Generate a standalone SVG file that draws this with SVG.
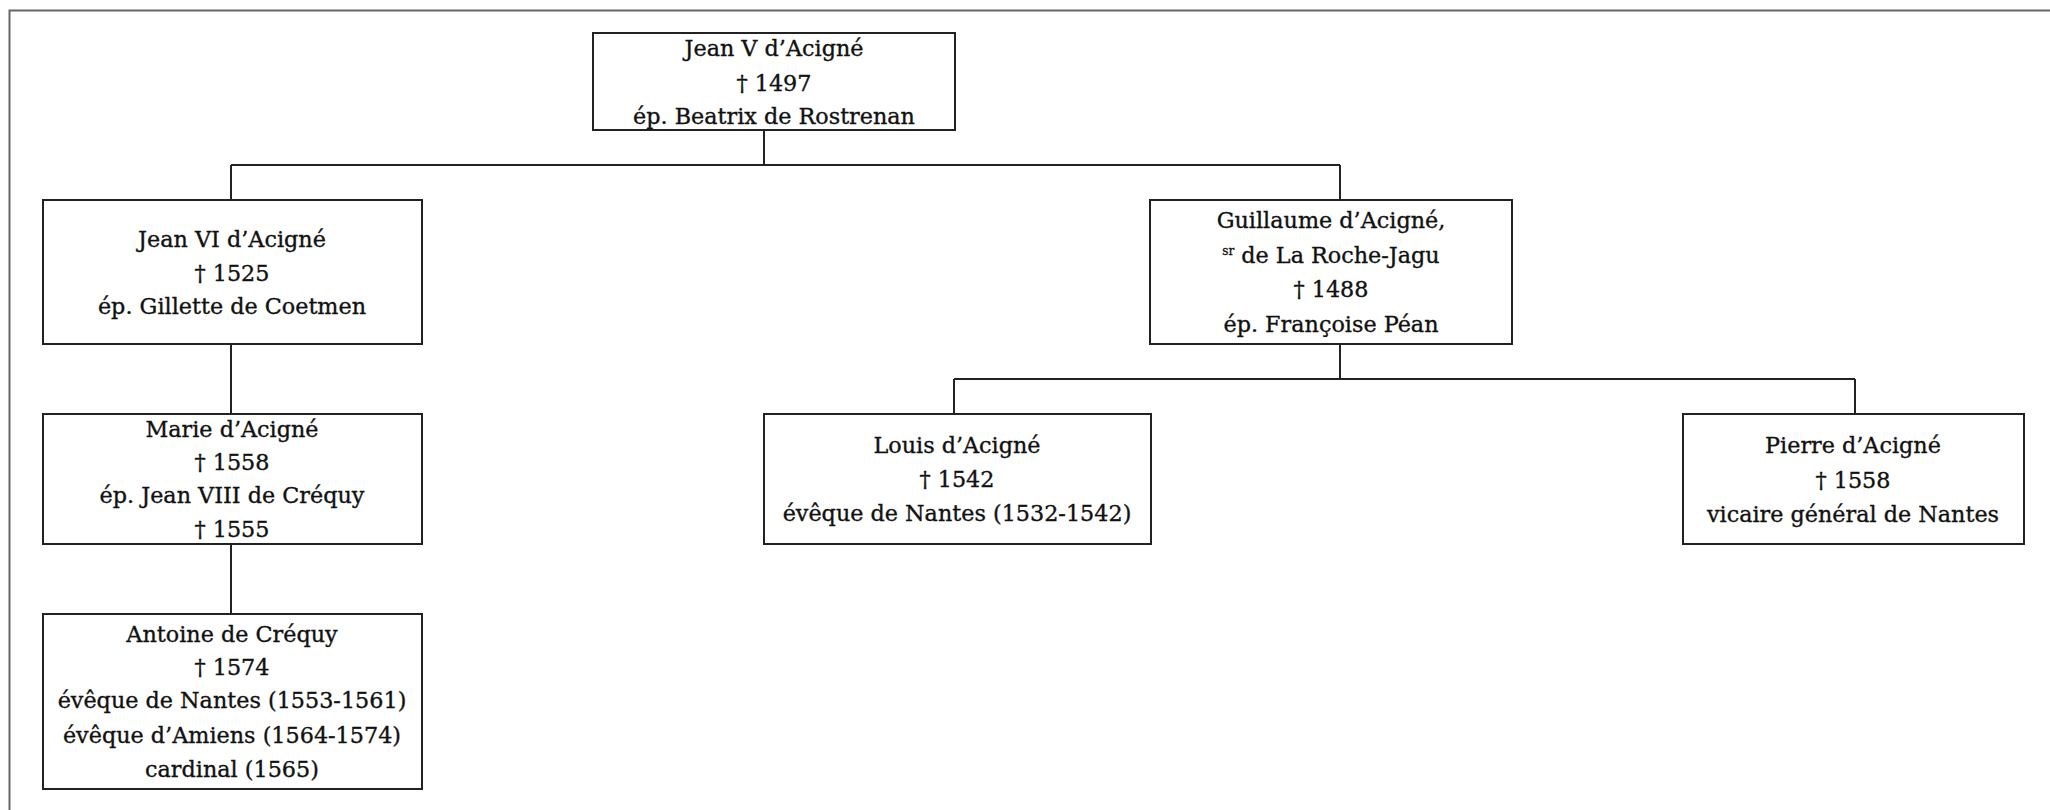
<svg xmlns="http://www.w3.org/2000/svg" width="2050" height="810" viewBox="0 0 2050 810">
<style>
.box{fill:#fff;stroke:#222;stroke-width:2}
.ln{fill:none;stroke:#222;stroke-width:2}
.t{font-family:"DejaVu Serif","Liberation Serif",serif;font-size:22.3px;fill:#111;stroke:#111;stroke-width:0.35;text-anchor:middle}
.sup{font-size:12px}
</style>
<rect x="0" y="0" width="2050" height="810" fill="#fff"/>
<path d="M9.5,830 V10.5 H2060" fill="none" stroke="#666" stroke-width="2"/>
<g id="connectors" class="ln">
<path d="M764,130 V165 M231,165 H1340 M231,165 V200 M1340,165 V200"/>
<path d="M231,344 V414 M231,544 V614"/>
<path d="M1340,344 V379 M954,379 H1855 M954,379 V414 M1855,379 V414"/>
</g>
<g id="jean5">
<rect class="box" x="593" y="33" width="362" height="97"/>
<text class="t" x="774" y="56">Jean V d’Acigné</text>
<text class="t" x="774" y="91">† 1497</text>
<text class="t" x="774" y="124">ép. Beatrix de Rostrenan</text>
</g>
<g id="jean6">
<rect class="box" x="43" y="200" width="379" height="144"/>
<text class="t" x="232" y="247">Jean VI d’Acigné</text>
<text class="t" x="232" y="281">† 1525</text>
<text class="t" x="232" y="314">ép. Gillette de Coetmen</text>
</g>
<g id="guillaume">
<rect class="box" x="1150" y="200" width="362" height="144"/>
<text class="t" x="1331" y="228">Guillaume d’Acigné,</text>
<text class="t" x="1331" y="263"><tspan class="sup" dy="-8">sr</tspan><tspan dy="8"> de La Roche-Jagu</tspan></text>
<text class="t" x="1331" y="297">† 1488</text>
<text class="t" x="1331" y="332">ép. Françoise Péan</text>
</g>
<g id="marie">
<rect class="box" x="43" y="414" width="379" height="130"/>
<text class="t" x="232" y="437">Marie d’Acigné</text>
<text class="t" x="232" y="470">† 1558</text>
<text class="t" x="232" y="503">ép. Jean VIII de Créquy</text>
<text class="t" x="232" y="537">† 1555</text>
</g>
<g id="antoine">
<rect class="box" x="43" y="614" width="379" height="175"/>
<text class="t" x="232" y="642">Antoine de Créquy</text>
<text class="t" x="232" y="675">† 1574</text>
<text class="t" x="232" y="708">évêque de Nantes (1553-1561)</text>
<text class="t" x="232" y="743">évêque d’Amiens (1564-1574)</text>
<text class="t" x="232" y="777">cardinal (1565)</text>
</g>
<g id="louis">
<rect class="box" x="764" y="414" width="387" height="130"/>
<text class="t" x="957" y="453">Louis d’Acigné</text>
<text class="t" x="957" y="487">† 1542</text>
<text class="t" x="957" y="521">évêque de Nantes (1532-1542)</text>
</g>
<g id="pierre">
<rect class="box" x="1683" y="414" width="341" height="130"/>
<text class="t" x="1853" y="453">Pierre d’Acigné</text>
<text class="t" x="1853" y="488">† 1558</text>
<text class="t" x="1853" y="522">vicaire général de Nantes</text>
</g>
</svg>
